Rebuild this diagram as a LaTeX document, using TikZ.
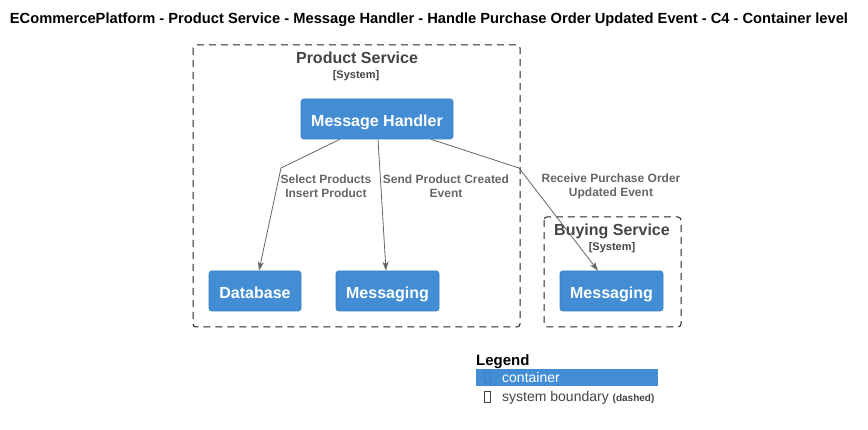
\documentclass[tikz,border=0pt]{standalone}
\usepackage{fontspec}
\setmainfont{Liberation Sans}
\usetikzlibrary{arrows.meta,calc}
\definecolor{c4blue}{HTML}{438DD5}
\definecolor{c4edge}{HTML}{3C7FC0}
\definecolor{txtgray}{HTML}{444444}
\definecolor{bndgray}{HTML}{222222}
\definecolor{relgray}{HTML}{666666}
\tikzset{
  container/.style={fill=c4blue, draw=c4edge, line width=0.6pt, rounded corners=2.5pt,
    text=white, font=\fontsize{16}{18}\selectfont\bfseries, minimum height=40pt, inner sep=0pt,
    text height=16pt, text depth=0pt},
  boundary/.style={draw=bndgray, dash pattern=on 7pt off 5pt, line width=1pt, rounded corners=3pt},
  btitle/.style={text=txtgray, font=\fontsize{16}{18}\selectfont\bfseries, inner sep=0pt},
  bstereo/.style={text=txtgray, font=\fontsize{11}{13}\selectfont\bfseries, inner sep=0pt},
  rel/.style={draw=relgray, line width=0.8pt, -{Stealth[length=9pt,width=6pt,inset=2.5pt]}},
  rellabel/.style={text=relgray, font=\fontsize{12}{14}\selectfont\bfseries, align=center, inner sep=0pt},
  glyph/.style={line width=0.6pt},
}
\begin{document}
\begin{tikzpicture}[x=1pt,y=-1pt]
\useasboundingbox (0,0) rectangle (868,430);
% title
\node[font=\fontsize{14.7}{16}\selectfont\bfseries, anchor=center, inner sep=0pt] (title) at (429,20)
  {ECommercePlatform - Product Service - Message Handler - Handle Purchase Order Updated Event - C4 - Container level};
% boundaries
\draw[boundary] (193,45) rectangle (520,327);
\node[btitle] (pstitle) at (357,58) {Product Service};
\node[bstereo] (psst) at (356,75.5) {[System]};
\draw[boundary] (544,217) rectangle (681,327);
\node[btitle] (bstitle) at (612,231) {Buying Service};
\node[bstereo] (bsst) at (612,247.5) {[System]};
% containers
\node[container, minimum width=152pt] (mh) at (377,119) {Message Handler};
\node[container, minimum width=92pt] (db) at (255,291) {Database};
\node[container, minimum width=103pt] (msg) at (387.5,291) {Messaging};
\node[container, minimum width=103pt] (bmsg) at (611.5,291) {Messaging};
% relations
\coordinate (b1) at (281,168);
\coordinate (b3) at (519,168);
\draw[rel] ([xshift=-37pt]mh.south) -- (b1) -- ([xshift=4pt]db.north);
\draw[rel] ([xshift=1pt]mh.south) -- ([xshift=-1.5pt]msg.north);
\draw[rel] ([xshift=54pt]mh.south) -- (b3) -- ([xshift=-13.5pt]bmsg.north);
\node[rellabel] (l1) at (326,186) {Select Products\\Insert Product};
\node[rellabel] (l2) at (446,186) {Send Product Created\\Event};
\node[rellabel] (l3) at (611,186) {Receive Purchase Order\\Updated Event};
% legend
\node[anchor=base west, font=\fontsize{15}{17}\selectfont\bfseries, inner sep=0pt] (leg) at (476,366) {Legend};
\fill[c4blue] (476,369) rectangle (658,386);
\draw[glyph, draw=c4edge] (484.5,372.5) rectangle (490.5,383.5);
\node[anchor=base west, text=white, font=\fontsize{14}{16}\selectfont, inner sep=0pt] (lc) at (502,383) {container};
\draw[glyph, draw=txtgray] (484.5,391.5) rectangle (490.5,402.5);
\node[anchor=base west, text=txtgray, font=\fontsize{14}{16}\selectfont, inner sep=0pt] (lb) at (502,402)
  {system boundary {\fontsize{10}{11}\selectfont\bfseries (dashed)}};
\end{tikzpicture}
\end{document}
